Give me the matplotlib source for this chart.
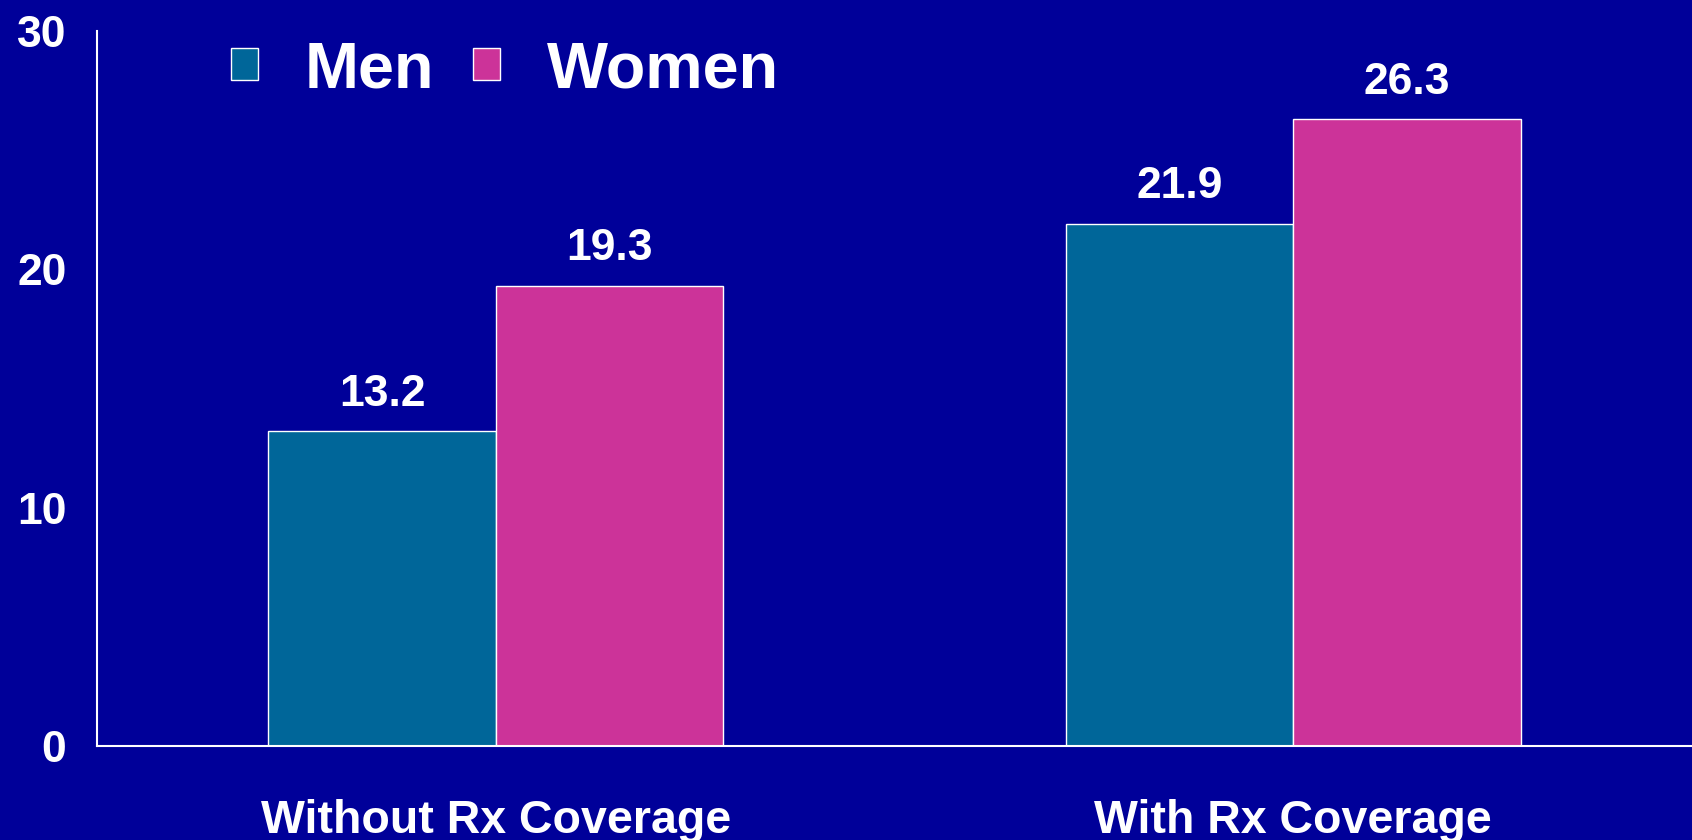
import matplotlib
matplotlib.use("Agg")
import matplotlib.pyplot as plt
import numpy as np

categories = ["Without Rx Coverage", "With Rx Coverage"]
series_names = ["Men", "Women"]
men = [13.2, 21.9]
women = [19.3, 26.3]
yticks = [0, 10, 20, 30]

BG = "#000099"
C_MEN = "#006699"
C_WOMEN = "#CC3399"

plt.rcParams['font.family'] = ['Liberation Sans', 'DejaVu Sans']
plt.rcParams['font.weight'] = 'bold'

fig = plt.figure(figsize=(16.92, 8.4), dpi=100, facecolor=BG)
ax = fig.add_axes([97/1692, 94/840, 1 - 97/1692, (746-31)/840])
ax.set_facecolor(BG)

x = np.arange(len(categories))
w = 0.285
b1 = ax.bar(x - w/2, men, w, color=C_MEN, edgecolor="white", linewidth=1.0, label=series_names[0])
b2 = ax.bar(x + w/2, women, w, color=C_WOMEN, edgecolor="white", linewidth=1.0, label=series_names[1])

for bars in (b1, b2):
    ax.bar_label(bars, labels=[f"{v:.1f}" for v in bars.datavalues], padding=12,
                 color="white", fontsize=32, fontweight="bold")

ax.set_xlim(-0.5, 1.5)
ax.set_ylim(0, 30)
ax.set_yticks(yticks)
ax.set_yticklabels([str(t) for t in yticks])
ax.set_xticks(x)
ax.set_xticklabels(categories)
ax.tick_params(axis='y', length=0, pad=22, labelsize=32, labelcolor="white")
ax.tick_params(axis='x', length=0, pad=38, labelsize=33.5, labelcolor="white")
for lab in ax.get_xticklabels() + ax.get_yticklabels():
    lab.set_fontweight("bold")

for s in ("top", "right"):
    ax.spines[s].set_visible(False)
for s in ("left", "bottom"):
    ax.spines[s].set_color("white")
    ax.spines[s].set_linewidth(1.5)

leg = ax.legend(loc="upper left", bbox_to_anchor=(231/1692, 1 - 40/840),
                bbox_transform=fig.transFigure, ncol=2, frameon=False,
                fontsize=46.5, handlelength=0.42, handleheight=0.38,
                handletextpad=0.72, columnspacing=0.6, borderpad=0, borderaxespad=0)
for t in leg.get_texts():
    t.set_color("white")
    t.set_fontweight("bold")

fig.savefig("out.png", dpi=100, facecolor=BG)
